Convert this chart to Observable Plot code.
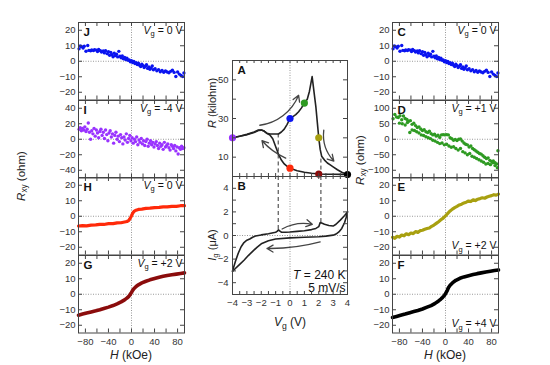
<!DOCTYPE html>
<html><head><meta charset="utf-8">
<script src="https://cdn.jsdelivr.net/npm/d3@7"></script>
<script src="https://cdn.jsdelivr.net/npm/@observablehq/plot@0.6"></script>
<style>
body{margin:0;background:#fff;}
#fig{position:relative;width:550px;height:365px;overflow:hidden;font-family:"Liberation Sans",Arial,sans-serif;color:#222;}
#fig svg{position:absolute;overflow:visible;}
.lab{position:absolute;font-size:11.5px;white-space:nowrap;line-height:1;}
.rot{transform:translate(-50%,-50%) rotate(-90deg);}
.hc{transform:translate(-50%,-50%);}
.sub{font-size:0.72em;position:relative;top:0.3em;}
</style></head><body><div id="fig"></div>
<script>
// ---------- data ----------
// Panels J and C (Vg = 0 V), scatter
const jH = [-91,-89,-87,-84,-82,-79,-76,-74,-71,-69,-66,-64,-61,-59,-57,-54,-52,-49,-47,-45,-42,-40,-38,-36,-34,-32,-30,-28,-26,-24,-22,-20,-18,-16,-14,-12,-10,-8,-6,-4,-2,0,2,4,6,8,10,12,14,16,18,20,22,24,26,28,30,32,34,36,38,41,44,47,50,53,56,59,62,65,68,71,74,77,80,83,86,89,91];
const jR = [8,9.8,9.5,8.5,9.7,6.5,10.2,7,6.8,7.3,6.9,7.5,7.2,6.3,7.6,6.8,5.9,6.6,5.4,6.8,4.9,6.1,3.8,5.7,4.2,2.9,5.2,3.6,4.5,2.8,6.4,3.2,2.2,3.4,1.6,2.5,1.1,1.9,0.6,0.9,-0.3,0.4,-0.8,-0.2,-1.5,-0.9,-2.1,-1.3,-2.6,-3.4,-1.9,-2.8,-4.1,-3.2,-2.3,-4.6,-3.6,-5.2,-4.3,-3.1,-5.5,-4.8,-6.2,-5.4,-6.8,-5.9,-7.1,-6.3,-6.9,-7.4,-6.5,-5.8,-7.2,-9.8,-6.9,-8.3,-9.2,-9.9,-7.6];
// Panel I (Vg = -4 V), scatter
const iH = [-91,-89,-87,-85,-83,-81,-79,-77,-75,-73,-71,-69,-67,-65,-63,-61,-59,-57,-55,-53,-51,-49,-47,-45,-43,-41,-39,-37,-35,-33,-31,-29,-27,-25,-23,-21,-19,-17,-15,-13,-11,-9,-7,-5,-3,-1,1,3,5,7,9,11,13,15,17,19,21,23,25,27,29,31,33,35,37,39,41,43,45,47,49,51,53,55,57,59,61,63,65,67,69,71,73,75,77,79,81,83,85,87,89,91];
const iR = [13,15,11,14,12,16,10,13,21,9,0,11,7,14,4,12,8,2,10,13,5,9,1,12,6,-2,8,11,3,7,-5,5,9,0,4,-3,6,2,-6,3,-1,7,-4,1,5,-2,2,-5,0,-3,3,-7,-1,-4,1,-6,-2,-8,-3,0,-9,-5,-2,-7,-4,-10,-6,-3,-8,-12,-5,-9,-7,-13,-4,-10,-8,-6,-11,-14,-7,-9,-12,-8,-15,-10,-19,-11,-13,-9,-12,-11];
// Panel D (Vg = +1 V), scatter (two sweeps)
const dH = [-91,-88,-85,-82,-79,-76,-73,-70,-67,-64,-61,-58,-55,-52,-49,-46,-43,-40,-37,-34,-31,-28,-25,-22,-19,-16,-13,-10,-7,-4,-1,2,5,8,11,14,17,20,23,26,29,32,35,38,41,44,47,50,53,56,59,62,65,68,71,74,77,80,83,86,89,91,
  -80,-75,-70,-66,-62,-58,-54,-50,-46,-42,-38,-34,-30,-26,-22,-18,-14,-10,-6,-2,2,6,10,14,18,22,26,30,34,38,42,46,50,54,58,62,66,70,74,78,82,86,90];
const dR = [66,80,72,70,76,63,75,67,64,58,60,48,52,44,38,40,33,28,31,24,22,26,18,14,16,10,13,6,14,15,14,15,14,5,2,-3,-1,-4,0,1,-6,-12,-16,-18,-25,-22,-30,-34,-38,-42,-46,-48,-53,-58,-62,-60,-68,-72,-70,-76,-80,-37,
  52,50,46,54,22,30,28,24,20,14,12,8,5,2,-3,-6,-10,-14,-12,-18,-16,-22,-26,-24,-30,-35,-30,-40,-44,-50,-46,-55,-58,-62,-66,-70,-74,-80,-78,-82,-76,-85,-92];
// Panel H (Vg = 0 V), line
const hH = [-92,-85,-78,-70,-62,-55,-48,-40,-32,-25,-18,-12,-8,-5,-3,-1.5,0,1.5,3,5,8,12,18,25,32,40,48,55,62,70,78,85,92];
const hR = [-6.3,-6.0,-6.2,-5.7,-5.6,-5.2,-5.3,-4.8,-4.8,-4.3,-4.2,-3.7,-3.4,-2.8,-1.8,-0.8,0.3,1.5,2.5,3.3,3.9,4.4,4.6,5.1,5.2,5.6,5.7,6.1,6.0,6.4,6.4,6.8,6.8];
// Panel G (Vg = +2 V), line
const gH = hH;
const gR = [-13.5,-12.8,-12.1,-11.4,-10.7,-10.0,-9.2,-8.3,-7.3,-6.2,-4.9,-3.6,-2.5,-1.5,-0.6,0.3,1.2,2.2,3.0,3.9,5.0,6.1,7.3,8.4,9.3,10.2,11.0,11.6,12.1,12.6,13.0,13.4,13.8];
// Panel E (Vg = +2 V), noisy line
const eH = [-92,-88,-84,-80,-76,-72,-68,-64,-60,-56,-52,-48,-44,-40,-36,-32,-28,-24,-20,-16,-12,-8,-4,0,4,8,12,16,20,24,28,32,36,40,44,48,52,56,60,64,68,72,76,80,84,88,92];
const eR = [-13.6,-14.2,-12.9,-13.4,-12.1,-12.6,-11.3,-11.9,-10.8,-11.2,-9.9,-10.4,-9.3,-9.0,-8.4,-7.9,-7.6,-6.5,-5.7,-4.6,-3.5,-2.3,-1.2,0.3,1.9,3.4,4.6,5.6,6.4,7.3,7.8,8.6,9.1,9.8,9.5,10.6,10.1,11.0,11.4,11.9,11.6,12.4,12.9,13.3,13.9,13.6,14.3];
// Panel F (Vg = +4 V), line
const fH = hH;
const fR = [-15.0,-14.3,-13.6,-12.8,-11.9,-11.2,-10.5,-9.5,-8.3,-7.3,-5.9,-4.3,-3.1,-2.0,-1.2,-0.5,0.4,1.4,2.4,4.2,5.8,7.3,9.0,10.3,11.2,12.0,12.7,13.3,13.8,14.4,14.9,15.3,15.7];
// Panel A: R vs Vg, forward and backward sweeps
const aUpV = [-4,-3.5,-3,-2.5,-2.2,-2.0,-1.8,-1.6,-1.4,-1.2,-1.0,-0.8,-0.6,-0.4,-0.2,0,0.2,0.4,0.6,0.8,1.0,1.2,1.35,1.45,1.54,1.6,1.7,1.8,1.9,2.0,2.1,2.2,2.4,2.6,2.8,3.0,3.3,3.6,4.0];
const aUpR = [20,20.8,21.6,22.8,23.8,24,23.5,22.3,22,22,22,22,23,24.5,27,30,31,32,33.5,35.5,38,40,44,48,51.7,48,42,36,28,20,14,10.5,8.5,7,6,5,3.5,2.2,1];
const aDnV = [4,3.5,3,2.5,2,1.5,1,0.5,0.2,0,-0.2,-0.4,-0.6,-0.8,-1.0,-1.2,-1.4,-1.6,-1.8,-2.0,-2.2,-2.5,-3,-3.5,-4];
const aDnR = [1,1.1,1.2,1.2,1.3,1.7,2.2,3.0,3.7,4.3,5.2,6.5,8.5,11.5,15.5,19.5,21.5,22.3,23.5,24,24,23,21.8,20.8,20];
// coloured markers in A
const mkV = [-4,0,0,1,2,2,4];
const mkR = [20,4.3,30,38,20,1.3,1];
const mkC = ["#9933ff","#ff2a0a","#0a14f0","#2e9a22","#a8a010","#8b0c0c","#000000"];
// Panel B: Ig vs Vg
const bUpV = [-4,-3.8,-3.6,-3.4,-3.2,-3.0,-2.8,-2.6,-2.4,-2.2,-2.0,-1.5,-1.0,-0.9,-0.8,-0.7,-0.6,-0.3,0,0.5,1.0,1.5,1.8,2.0,2.1,2.2,2.4,2.7,3.0,3.2,3.5,3.8,4.0];
const bUpI = [-3.0,-2.2,-1.5,-0.95,-0.6,-0.4,-0.3,-0.15,-0.05,0.0,0.05,0.15,0.28,0.35,0.48,0.38,0.28,0.28,0.3,0.35,0.4,0.5,0.6,0.75,1.1,1.05,0.95,0.85,0.8,0.95,1.3,1.7,2.0];
const bDnV = [4,3.9,3.8,3.6,3.4,3.2,3.0,2.5,2.0,1.0,0,-1.0,-1.5,-2.0,-2.3,-2.6,-2.9,-3.2,-3.5,-3.8,-4];
const bDnI = [2.0,1.5,1.1,0.6,0.3,0.12,0.03,-0.05,-0.1,-0.15,-0.2,-0.3,-0.45,-0.7,-1.0,-1.35,-1.7,-2.1,-2.45,-2.8,-3.05];
// annotations (data coordinates)
const dashA = [{x:-0.82,y1:22,y2:0},{x:2.15,y1:9,y2:0}];
const dashB = [{x:-0.82,y1:5,y2:0.45},{x:2.15,y1:5,y2:1.1}];
const arrA1 = [{x1:-2.1,y1:26.5,x2:0.6,y2:42}];
const arrA2 = [{x1:2.35,y1:24,x2:3.05,y2:8}];
const arrA3 = [{x1:-0.3,y1:9.5,x2:-1.95,y2:18.5}];
const arrB1 = [{x1:-0.55,y1:0.55,x2:1.55,y2:0.95}];
const arrB2 = [{x1:2.1,y1:-0.55,x2:-1.6,y2:-1.1}];
// ticks
const hTicks = [-80,-60,-40,-20,0,20,40,60,80];
const hLabels = [-80,-40,0,40,80];
const r25 = [-20,-10,0,10,20];
const r50 = [-40,-20,0,20,40];
const r125 = [-100,-50,0,50,100];
const vTicks = d3.range(-4,4.01,0.5);
const vLabels = [-4,-3,-2,-1,0,1,2,3,4];
const aTicks = [10,20,30,40,50];
const aLabels = [10,30,50];
const bTicks = [-4,-3,-2,-1,0,1,2,3,4];
const bLabels = [-4,-2,0,2,4];

// ---------- helpers ----------
const fig = document.getElementById("fig");
const INK = "#444";
function rich(svg){
  svg.querySelectorAll("text").forEach(el=>{
    const s = el.textContent;
    if(!/[*_]/.test(s)) return;
    el.textContent = "";
    const re = /\*([^*]+)\*|_([^_]+)_|([^*_]+)/g; let m, down=false;
    while((m = re.exec(s))){
      const t = document.createElementNS("http://www.w3.org/2000/svg","tspan");
      if(m[1]){ t.setAttribute("font-style","italic"); t.textContent=m[1]; }
      else if(m[2]){ t.setAttribute("font-size","0.72em"); t.setAttribute("dy","2.5"); t.textContent=m[2]; down=true; }
      else { t.textContent=m[3]; if(down){ t.setAttribute("dy","-2.5"); down=false; } }
      el.append(t);
    }
  });
}
function panel(o){
  const mL=40, mR=8, mT=4, mB=o.xLabels?22:4;
  const width=mL+o.w+mR, height=mT+o.h+mB;
  const marks=[];
  if(o.zeroX!==false) marks.push(Plot.ruleX([0],{stroke:"#999",strokeDasharray:"1,1.5"}));
  if(o.zeroY!==false) marks.push(Plot.ruleY([0],{stroke:"#999",strokeDasharray:"1,1.5"}));
  marks.push(...o.marks);
  marks.push(
    Plot.frame({stroke:INK}),
    Plot.tickY(o.yTicks,{y:d=>d,insetRight:o.w-4,stroke:INK}),
    Plot.tickY(o.yTicks,{y:d=>d,insetLeft:o.w-4,stroke:INK}),
    Plot.tickX(o.xTicks,{x:d=>d,insetTop:o.h-(o.xt||4),stroke:INK}),
    Plot.tickX(o.xTicks,{x:d=>d,insetBottom:o.h-(o.xt||4),stroke:INK}),
    Plot.axisY(o.yLabels,{tickSize:0,tickPadding:o.yp||3,label:null,fontSize:9.5,fill:"#333"})
  );
  if(o.xLabels) marks.push(Plot.axisX(o.xLabels,{tickSize:0,tickPadding:5,label:null,fontSize:9.5,fill:"#333"}));
  if(o.letter) marks.push(Plot.text([o.letter],{frameAnchor:"top-left",dx:5,dy:5,lineAnchor:"top",textAnchor:"start",fontWeight:"bold",fontSize:11.5,fill:"#111"}));
  if(o.vg){
    const bottom = o.vgBottom;
    marks.push(Plot.text([o.vg],{frameAnchor:bottom?"bottom-right":"top-right",dx:-2,dy:bottom?-6:4,lineAnchor:bottom?"bottom":"top",textAnchor:"end",fontSize:10.5,fill:"#111"}));
  }
  const svg = Plot.plot({
    width,height,marginLeft:mL,marginRight:mR,marginTop:mT,marginBottom:mB,
    x:{domain:o.xDomain,axis:o.xLabels?undefined:null},
    y:{domain:o.yDomain},
    style:{fontFamily:"'Liberation Sans',Arial,sans-serif",background:"transparent",overflow:"visible"},
    marks
  });
  rich(svg);
  svg.style.left=(o.left-mL)+"px";
  svg.style.top=(o.top-mT)+"px";
  fig.append(svg);
}
function label(html,x,y,cls,size){
  const d=document.createElement("div");
  d.className="lab "+cls; d.innerHTML=html;
  d.style.left=x+"px"; d.style.top=y+"px";
  if(size) d.style.fontSize=size+"px";
  fig.append(d);
}
const arrow=(data,bend)=>Plot.arrow(data,{x1:"x1",y1:"y1",x2:"x2",y2:"y2",bend,stroke:"#444",strokeWidth:1.3,headLength:8});

// ---------- side columns ----------
const W=106, PH=77.5, tops=[22,99.5,177,254.5];
const HD=[-92,92];
const dot=(xs,ys,c)=>Plot.dot(ys,{x:xs,y:ys,r:1.7,fill:c,stroke:null});
const line=(xs,ys,c,w)=>Plot.line(ys,{x:xs,y:ys,stroke:c,strokeWidth:w,curve:"linear"});
const side=(left,i,letter,vg,yDomain,yLabels,marks,extra={})=>panel(Object.assign({
  left,top:tops[i],w:W,h:PH,xDomain:HD,yDomain,yTicks:yLabels,yLabels,xTicks:hTicks,
  xLabels:i===3?hLabels:null,letter,vg,marks},extra));

side(78,0,"J","*V*_g_ = 0 V",[-25,25],r25,[dot(jH,jR,"#0a14f0")]);
side(78,1,"I","*V*_g_ = -4 V",[-50,50],r50,[dot(iH,iR,"#9933ff")]);
side(78,2,"H","*V*_g_ = 0 V",[-25,25],r25,[line(hH,hR,"#ff2a0a",3.2)]);
side(78,3,"G","*V*_g_ = +2 V",[-25,25],r25,[line(gH,gR,"#8b0c0c",3.6)]);

side(392,0,"C","*V*_g_ = 0 V",[-25,25],r25,[dot(jH,jR,"#0a14f0")]);
side(392,1,"D","*V*_g_ = +1 V",[-125,125],r125,[dot(dH,dR,"#2e9a22")]);
side(392,2,"E","*V*_g_ = +2 V",[-25,25],r25,[line(eH,eR,"#a8a010",3.2)],{vgBottom:true});
side(392,3,"F","*V*_g_ = +4 V",[-25,25],r25,[line(fH,fR,"#000",3.6)],{vgBottom:true});

// ---------- middle ----------
panel({left:232,top:60,w:115,h:116,xDomain:[-4,4],yDomain:[0,60],zeroY:false,yp:4,
  yTicks:aTicks,yLabels:aLabels,xTicks:vTicks,xt:3,letter:"A",
  marks:[
    Plot.ruleX(dashA,{x:"x",y1:"y1",y2:"y2",stroke:"#333",strokeDasharray:"4,3"}),
    Plot.line(aUpR,{x:aUpV,y:aUpR,stroke:"#222",strokeWidth:1.6}),
    Plot.line(aDnR,{x:aDnV,y:aDnR,stroke:"#222",strokeWidth:1.6}),
    arrow(arrA1,-30), arrow(arrA2,-25), arrow(arrA3,12),
    Plot.dot(mkR,{x:mkV,y:mkR,fill:mkC,r:3.6,stroke:null})
  ]});
panel({left:232,top:176,w:115,h:118,xDomain:[-4,4],yDomain:[-5,5],yp:4,
  yTicks:bTicks,yLabels:bLabels,xTicks:vTicks,xt:3,xLabels:vLabels,letter:"B",
  marks:[
    Plot.ruleX(dashB,{x:"x",y1:"y1",y2:"y2",stroke:"#333",strokeDasharray:"4,3"}),
    Plot.line(bUpI,{x:bUpV,y:bUpI,stroke:"#222",strokeWidth:1.6}),
    Plot.line(bDnI,{x:bDnV,y:bDnI,stroke:"#222",strokeWidth:1.6}),
    arrow(arrB1,20), arrow(arrB2,8),
    Plot.text(["*T* = 240 K"],{frameAnchor:"bottom-right",dx:-2,dy:-16,lineAnchor:"bottom",textAnchor:"end",fontSize:12,fill:"#111"}),
    Plot.text(["5 mV/s"],{frameAnchor:"bottom-right",dx:-2,dy:-3,lineAnchor:"bottom",textAnchor:"end",fontSize:12,fill:"#111"})
  ]});

// ---------- axis titles ----------
label('<i>R</i><span class="sub">xy</span> (ohm)',22,176,"rot");
label('<i>R</i><span class="sub">xy</span> (ohm)',361,160,"rot");
label('<i>R</i> (kilohm)',212,103,"rot",11);
label('<i>I</i><span class="sub">g</span> (μA)',212,245,"rot",11);
label('<i>H</i> (kOe)',131,355,"hc",12);
label('<i>H</i> (kOe)',445,355,"hc",12);
label('<i>V</i><span class="sub">g</span> (V)',290,322,"hc",12);
</script></body></html>
